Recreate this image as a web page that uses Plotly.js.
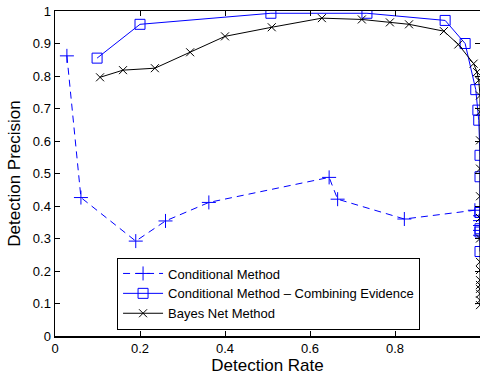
<!DOCTYPE html>
<html>
<head>
<meta charset="utf-8">
<script src="https://cdn.plot.ly/plotly-3.0.1.min.js"></script>
<style>html,body{margin:0;padding:0;background:#fff;overflow:hidden}#chart{width:480px;height:379px}</style>
</head>
<body>
<div id="chart"></div>
<script>
// Conditional Method
const condX = [0.028, 0.061, 0.19, 0.26, 0.362, 0.645, 0.665, 0.822, 0.988, 1, 1, 1, 1, 1];
const condY = [0.862, 0.426, 0.292, 0.354, 0.411, 0.488, 0.421, 0.36, 0.387, 0.37, 0.355, 0.34, 0.325, 0.31];
// Conditional Method – Combining Evidence
const combX = [0.099, 0.2, 0.508, 0.734, 0.918, 0.965, 0.99, 0.995, 0.997, 1, 1, 1, 1, 1, 1];
const combY = [0.855, 0.959, 0.993, 0.993, 0.971, 0.9, 0.758, 0.695, 0.664, 0.556, 0.49, 0.38, 0.33, 0.32, 0.26];
// Bayes Net Method
const bayesX = [0.106, 0.16, 0.235, 0.318, 0.4, 0.51, 0.628, 0.722, 0.788, 0.833, 0.915, 0.949, 0.985, 0.993, 0.997, 1, 1, 1, 1, 1, 1, 1, 1, 1, 1, 1, 1, 1, 1, 1];
const bayesY = [0.796, 0.818, 0.824, 0.873, 0.922, 0.95, 0.978, 0.974, 0.965, 0.959, 0.938, 0.897, 0.838, 0.812, 0.787, 0.74, 0.69, 0.602, 0.515, 0.43, 0.363, 0.3, 0.228, 0.203, 0.172, 0.157, 0.145, 0.13, 0.11, 0.095];

const seriesNames = ["Conditional Method", "Conditional Method \u2013 Combining Evidence", "Bayes Net Method"];
const xTicks = [0, 0.2, 0.4, 0.6, 0.8, 1];
const xTickText = ["0", "0.2", "0.4", "0.6", "0.8", "1"];
const yTicks = [0, 0.1, 0.2, 0.3, 0.4, 0.5, 0.6, 0.7, 0.8, 0.9, 1];
const yTickText = ["0", "0.1", "0.2", "0.3", "0.4", "0.5", "0.6", "0.7", "0.8", "0.9", "1"];

const FONT = "Liberation Sans, Arial, Helvetica, sans-serif";

const traces = [
  {x: condX, y: condY, name: seriesNames[0], mode: "lines+markers",
   line: {color: "#0000ff", width: 1, dash: "7px,5px"},
   marker: {symbol: "cross-thin-open", size: 10, color: "#0000ff", line: {color: "#0000ff", width: 1}}},
  {x: combX, y: combY, name: seriesNames[1], mode: "lines+markers",
   line: {color: "#0000ff", width: 1},
   marker: {symbol: "square-open", size: 10, color: "#0000ff", line: {color: "#0000ff", width: 1}}},
  {x: bayesX, y: bayesY, name: seriesNames[2], mode: "lines+markers",
   line: {color: "#000000", width: 1},
   marker: {symbol: "x-thin-open", size: 8, color: "#000000", line: {color: "#000000", width: 1}}}
];

const axisCommon = {
  showgrid: false, zeroline: false, showline: true, linecolor: "#000", linewidth: 1.5,
  mirror: "ticks", ticks: "inside", ticklen: 5, tickcolor: "#000", tickwidth: 1,
  tickfont: {family: FONT, size: 13, color: "#000"}
};

const layout = {
  width: 480, height: 379,
  margin: {l: 55, r: 0, t: 11, b: 43},
  paper_bgcolor: "#fff", plot_bgcolor: "#fff",
  showlegend: true,
  font: {family: FONT, color: "#000"},
  xaxis: Object.assign({}, axisCommon, {
    range: [0, 1], tickmode: "array", tickvals: xTicks, ticktext: xTickText,
    title: {text: "Detection Rate", font: {family: FONT, size: 17, color: "#000"}, standoff: 4}
  }),
  yaxis: Object.assign({}, axisCommon, {
    range: [0, 1], tickmode: "array", tickvals: yTicks, ticktext: yTickText,
    title: {text: "Detection Precision", font: {family: FONT, size: 17, color: "#000"}, standoff: 8}
  }),
  legend: {
    x: 0.146, y: 0.02, xanchor: "left", yanchor: "bottom",
    bgcolor: "#fff", bordercolor: "#000", borderwidth: 1,
    font: {family: FONT, size: 13, color: "#000"},
    itemwidth: 40, tracegroupgap: 0
  }
};

Plotly.newPlot("chart", traces, layout, {displayModeBar: false, staticPlot: true});
</script>
</body>
</html>
